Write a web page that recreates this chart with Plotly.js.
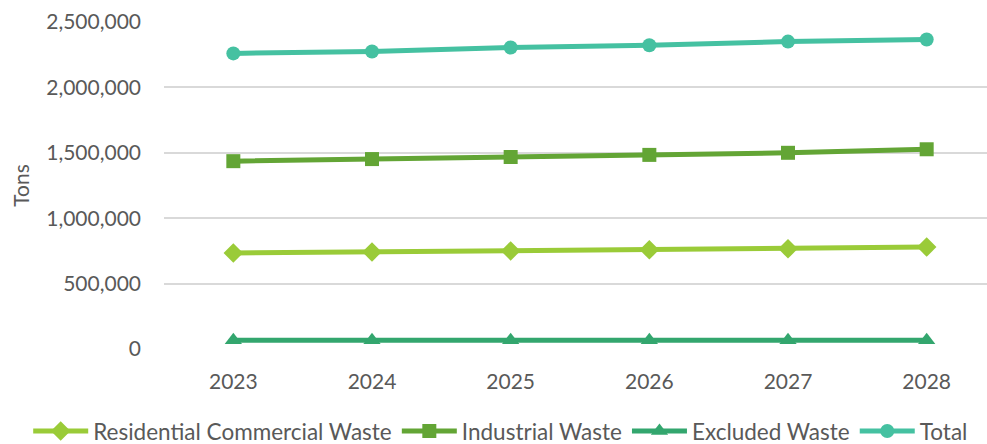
<!DOCTYPE html>
<html><head><meta charset="utf-8">
<script src="https://cdn.plot.ly/plotly-3.0.1.min.js"></script>
<style>html,body{margin:0;padding:0;overflow:hidden;background:#fff}</style>
</head><body><div id="chart" style="width:987px;height:444px"></div>
<script>
const years = ["2023","2024","2025","2026","2027","2028"];
const residential = [734000, 742000, 750000, 758000, 766000, 779000];
const industrial = [1436000, 1452000, 1468000, 1484000, 1500000, 1527000];
const excluded = [67000, 67000, 67000, 67000, 67000, 67000];
const total = [2260000, 2275000, 2305000, 2322000, 2350000, 2366000];
const yTicks = [0, 500000, 1000000, 1500000, 2000000, 2500000];
const yTickText = ["0", "500,000", "1,000,000", "1,500,000", "2,000,000", "2,500,000"];

const font = "Lato, 'Open Sans', sans-serif";
function tr(name, y, color, symbol, size){
  return {x: years, y: y, name: name, type: 'scatter', mode: 'lines+markers',
    line: {color: color, width: 5}, marker: {symbol: symbol, size: size, color: color}};
}
const data = [
  tr("Residential Commercial Waste", residential, "#9ACB38", "diamond", 15),
  tr("Industrial Waste", industrial, "#63A535", "square", 14),
  tr("Excluded Waste", excluded, "#33A66E", "triangle-up", 15),
  tr("Total", total, "#45C1A1", "circle", 14)
];
const layout = {
  width: 987, height: 444,
  margin: {l: 164, r: 0, t: 22, b: 94.5, autoexpand: false},
  paper_bgcolor: '#fff', plot_bgcolor: '#fff',
  font: {family: font, size: 21, color: '#595959'},
  showlegend: true,
  legend: {orientation: 'h', x: -0.165, xanchor: 'left',
    y: -0.252, yanchor: 'middle', itemwidth: 55, tracegroupgap: 0,
    font: {size: 22.5, color: '#595959'}},
  xaxis: {type: 'category', range: [-0.5, 5.435], showgrid: false, zeroline: false,
    showline: false, ticks: '', tickangle: 0, automargin: false, ticklabelstandoff: 18,
    tickfont: {size: 21, color: '#595959'}},
  yaxis: {range: [0, 2500000], tickvals: yTicks, ticktext: yTickText, automargin: false,
    showgrid: true, gridcolor: '#D9D9D9', gridwidth: 1.5, zeroline: false,
    showline: false, ticks: '', ticklabelstandoff: 22, tickfont: {size: 21, color: '#595959'},
    title: {text: 'Tons', font: {size: 21, color: '#595959'}, standoff: 10}}
};
Plotly.newPlot('chart', data, layout, {displayModeBar: false});
</script></body></html>
